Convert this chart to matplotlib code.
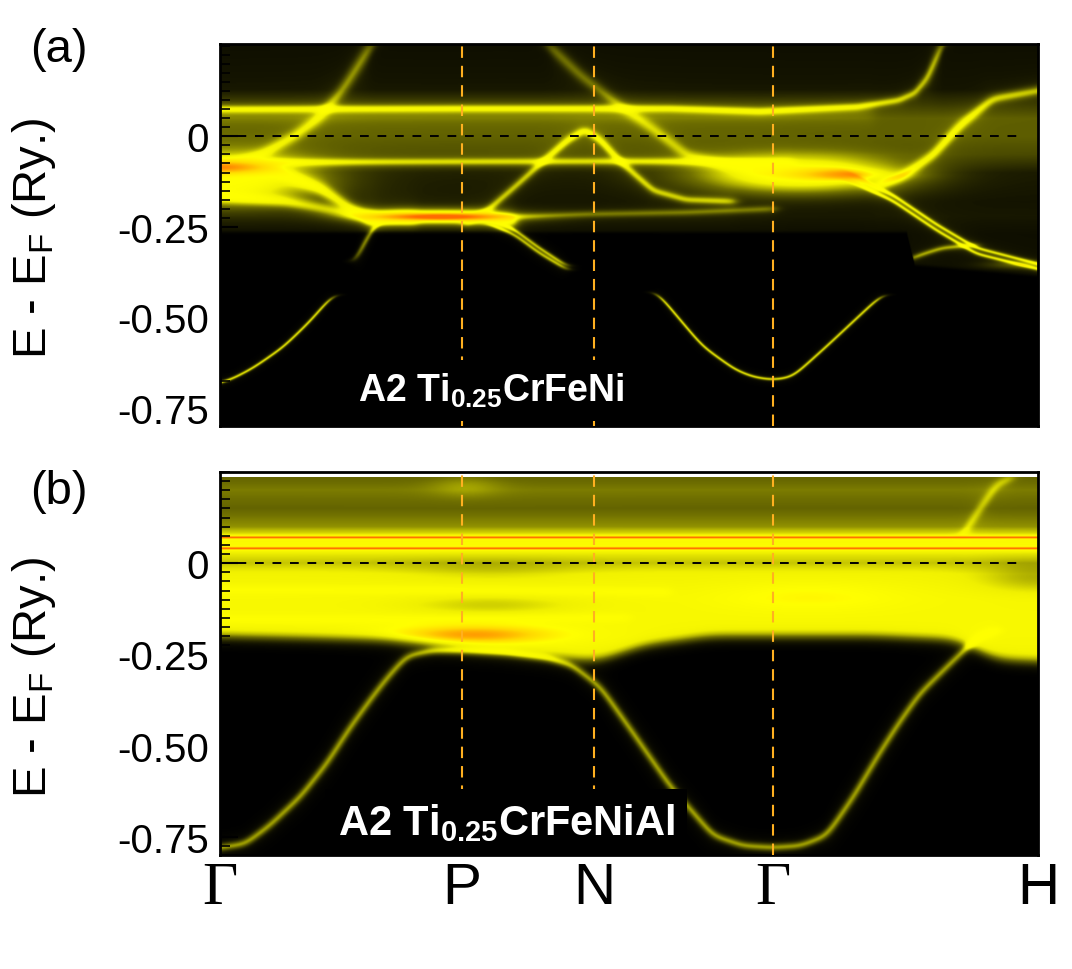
import numpy as np
import matplotlib
matplotlib.use("Agg")
import matplotlib.pyplot as plt
from matplotlib.colors import LinearSegmentedColormap
from matplotlib.transforms import ScaledTranslation

plt.rcParams["font.family"] = ["Liberation Sans", "DejaVu Sans"]
plt.rcParams["mathtext.fontset"] = "custom"
plt.rcParams["mathtext.rm"] = "Liberation Sans"
plt.rcParams["mathtext.bf"] = "Liberation Sans:bold"
plt.rcParams["mathtext.it"] = "Liberation Sans:italic"

# ---------------- k-path & axes data ----------------
kpath_labels = ["Γ", "P", "N", "Γ", "H"]
kpath_pos = [0.0, 0.296, 0.457, 0.676, 1.0]
label_dx_px = [10, 4, 5, 6, -8]
yticks = [0.0, -0.25, -0.50, -0.75]
ytick_labels = ["0", "-0.25", "-0.50", "-0.75"]
ylim_a = (-0.80, 0.255)
ylim_b = (-0.80, 0.235)
title_a = r"A2 Ti$_{\mathbf{0.25}}$CrFeNi"
title_b = r"A2 Ti$_{\mathbf{0.25}}$CrFeNiAl"

# ---------------- panel (a) bands (k along path, E in Ry) ----------------
a_flat_top_k = [0.0, 0.30, 0.55, 0.66, 0.78, 0.83, 0.85, 0.865, 0.875, 0.885]
a_flat_top_E = [0.075, 0.077, 0.077, 0.069, 0.082, 0.100, 0.120, 0.160, 0.210, 0.260]
a_right_diag_k = [0.80, 0.831, 0.872, 0.905, 0.945, 1.0]
a_right_diag_E = [-0.14, -0.115, -0.052, 0.030, 0.104, 0.126]
a_top_left_k = [0.0, 0.05, 0.09, 0.12, 0.15, 0.187]
a_top_left_E = [-0.09, -0.05, 0.0, 0.05, 0.13, 0.26]
a_top_mid_k = [0.40, 0.44, 0.489, 0.53, 0.571, 0.62, 0.66]
a_top_mid_E = [0.255, 0.17, 0.085, 0.02, -0.052, -0.08, -0.09]
a_peak_k = [0.30, 0.326, 0.36, 0.395, 0.425, 0.446, 0.465, 0.489, 0.53, 0.57, 0.63]
a_peak_E = [-0.24, -0.206, -0.14, -0.069, -0.01, 0.019, -0.01, -0.069, -0.15, -0.175, -0.18]
a_flat_mid_k = [0.0, 0.30, 0.50, 0.60, 0.70]
a_flat_mid_E = [-0.072, -0.070, -0.069, -0.070, -0.075]
a_left1_k = [0.0, 0.07, 0.122, 0.16, 0.19, 0.24]
a_left1_E = [-0.085, -0.10, -0.143, -0.20, -0.225, -0.228]
a_left2_k = [0.0, 0.08, 0.15, 0.19]
a_left2_E = [-0.165, -0.18, -0.21, -0.23]
a_Pflat_k = [0.18, 0.22, 0.296, 0.33, 0.36]
a_Pflat_E = [-0.228, -0.222, -0.222, -0.225, -0.235]
a_faint_k = [0.33, 0.45, 0.57, 0.68]
a_faint_E = [-0.225, -0.215, -0.210, -0.200]
a_GH1_k = [0.66, 0.70, 0.762, 0.823, 0.877, 0.925, 1.0]
a_GH1_E = [-0.088, -0.090, -0.097, -0.162, -0.244, -0.308, -0.352]
a_GH2_k = [0.66, 0.70, 0.762, 0.823, 0.877, 0.925, 1.0]
a_GH2_E = [-0.100, -0.103, -0.112, -0.178, -0.260, -0.324, -0.366]
a_Harc_k = [0.843, 0.86, 0.884, 0.925]
a_Harc_E = [-0.340, -0.325, -0.308, -0.300]
a_Pdrop1_k = [0.33, 0.36, 0.39, 0.424]
a_Pdrop1_E = [-0.228, -0.258, -0.308, -0.358]
a_Pdrop2_k = [0.33, 0.36, 0.39, 0.424]
a_Pdrop2_E = [-0.242, -0.272, -0.322, -0.368]
a_Ldrop_k = [0.165, 0.175, 0.187, 0.20]
a_Ldrop_E = [-0.345, -0.300, -0.250, -0.230]
a_par1_k = [0.0, 0.012, 0.04, 0.077, 0.11, 0.138]
a_par1_E = [-0.680, -0.673, -0.640, -0.582, -0.510, -0.437]
a_par2_k = [0.534, 0.56, 0.59, 0.63, 0.652, 0.676, 0.70, 0.742, 0.78, 0.81]
a_par2_E = [-0.430, -0.500, -0.580, -0.645, -0.665, -0.673, -0.665, -0.580, -0.500, -0.437]
# background haze of (a) as function of E
a_haze_E = [-0.27, -0.22, -0.18, -0.10, -0.05, 0.0, 0.05, 0.09, 0.13, 0.26]
a_haze_v = [0.06, 0.09, 0.08, 0.10, 0.24, 0.30, 0.30, 0.18, 0.08, 0.06]
a_cut_k = [0.0, 0.84, 0.85, 1.0]
a_cut_E = [-0.265, -0.265, -0.355, -0.385]
# broad bright regions (k0, E0, sigma_k, sigma_E, amp)
a_blob_k0 = [0.0, 0.71, 0.27]
a_blob_E0 = [-0.12, -0.105, -0.222]
a_blob_sk = [0.08, 0.085, 0.07]
a_blob_sE = [0.045, 0.035, 0.014]
a_blob_amp = [0.8, 0.8, 0.35]
# hot (orange) cores
a_hot_k0 = [0.0, 0.27, 0.78, 0.98]
a_hot_E0 = [-0.085, -0.222, -0.105, -0.355]
a_hot_sk = [0.04, 0.055, 0.05, 0.03]
a_hot_sE = [0.012, 0.007, 0.012, 0.008]
a_hot_amp = [0.2, 0.28, 0.2, 0.2]

# ---------------- panel (b) ----------------
b_line1_k = [0.0, 1.0]
b_line1_E = [0.070, 0.070]
b_line2_k = [0.0, 1.0]
b_line2_E = [0.040, 0.040]
b_arc_k = [0.0, 0.03, 0.06, 0.098, 0.13, 0.159, 0.185, 0.204, 0.228, 0.26, 0.30, 0.35,
           0.40, 0.43, 0.465, 0.50, 0.55, 0.603, 0.64, 0.676, 0.71, 0.742, 0.775,
           0.807, 0.83, 0.856, 0.896, 0.929, 0.95]
b_arc_E = [-0.780, -0.770, -0.720, -0.640, -0.550, -0.450, -0.370, -0.315, -0.255,
           -0.240, -0.240, -0.245, -0.260, -0.280, -0.340, -0.450, -0.610, -0.747,
           -0.775, -0.780, -0.775, -0.747, -0.640, -0.520, -0.440, -0.358, -0.270,
           -0.200, -0.185]
b_bandA_k = [0.0, 0.3, 0.55]
b_bandA_E = [-0.075, -0.075, -0.080]
b_bandB_k = [0.0, 0.3, 0.50]
b_bandB_E = [-0.155, -0.155, -0.150]
b_topH_k = [0.905, 0.913, 0.93, 0.95, 0.97]
b_topH_E = [0.070, 0.090, 0.150, 0.215, 0.235]
b_haze_E = [-0.30, -0.20, -0.10, -0.03, 0.0, 0.03, 0.055, 0.08, 0.10, 0.15, 0.20, 0.235]
b_haze_v = [0.70, 0.74, 0.74, 0.68, 0.54, 0.64, 0.76, 0.58, 0.42, 0.32, 0.38, 0.32]
b_edge_k = [0.0, 0.20, 0.30, 0.40, 0.46, 0.52, 0.60, 0.676, 0.80, 0.90, 0.95, 1.0]
b_edge_E = [-0.20, -0.21, -0.235, -0.255, -0.27, -0.225, -0.20, -0.20, -0.20, -0.21, -0.265, -0.27]
b_blob_k0 = [0.33, 0.33, 1.0, 0.30]
b_blob_E0 = [-0.115, -0.02, -0.04, 0.21]
b_blob_sk = [0.08, 0.08, 0.05, 0.03]
b_blob_sE = [0.020, 0.020, 0.030, 0.02]
b_blob_amp = [-0.18, -0.10, -0.20, 0.10]
b_hot_k0 = [0.31, 0.72]
b_hot_E0 = [-0.197, -0.09]
b_hot_sk = [0.07, 0.08]
b_hot_sE = [0.018, 0.03]
b_hot_amp = [0.22, 0.07]

# ---------------- rendering helpers ----------------
cmap = LinearSegmentedColormap.from_list(
    "blackyellow",
    [(0.0, "#000000"), (0.08, "#141400"), (0.2, "#3c3c00"), (0.35, "#6e6e00"),
     (0.5, "#b4b400"), (0.65, "#f0f000"), (0.76, "#ffff00"), (0.85, "#ffd800"),
     (0.93, "#ffa000"), (1.0, "#ff6a00")])

NK, NE = 820, 1060
kgrid = np.linspace(0, 1, NK)


def sig(x):
    return 1.0 / (1.0 + np.exp(-np.clip(x, -60, 60)))


def gsmooth(y, s=5.0):
    n = int(3 * s)
    x = np.arange(-n, n + 1)
    ker = np.exp(-0.5 * (x / s) ** 2)
    ker /= ker.sum()
    pad = np.pad(y, n, mode="reflect", reflect_type="odd")
    return np.convolve(pad, ker, mode="same")[n:-n]


def band(Eg, kn, En, w, amp, px_e, px_k=818.0, taper=0.004, s=5.0):
    kn = np.asarray(kn, float)
    En = np.asarray(En, float)
    eb = gsmooth(np.interp(kgrid, kn, En), s)
    slope = np.gradient(eb, kgrid)
    weff = w * np.sqrt(1 + (slope * px_e / px_k) ** 2)
    win = np.ones_like(kgrid)
    if kn[0] > 0:
        win *= sig((kgrid - kn[0]) / taper)
    if kn[-1] < 1:
        win *= sig((kn[-1] - kgrid) / taper)
    d = (Eg - eb[None, :]) / weff[None, :]
    prof = 0.5 * np.exp(-np.log(2) * d ** 2) + 0.5 / (1 + d ** 2)
    return amp * prof * win[None, :]


def blobs(Kg, Eg, k0, E0, sk, sE, amp):
    out = np.zeros_like(Eg)
    for a, b, c, d, e in zip(k0, E0, sk, sE, amp):
        out += e * np.exp(-0.5 * ((Kg - a) / c) ** 2 - 0.5 * ((Eg - b) / d) ** 2)
    return out


def saturate(v, knee=0.58, top=0.18):
    return np.where(v < knee, v, knee + top * np.tanh((v - knee) / top))


# ---------------- panel (a) spectral map ----------------
Ea = np.linspace(ylim_a[0], ylim_a[1], NE)
Kg, Eg = np.meshgrid(kgrid, Ea)
pxa = 364.0
upper = np.interp(Ea, a_haze_E, a_haze_v)[:, None] * np.ones((1, NK))
upper = upper + blobs(Kg, Eg, a_blob_k0, a_blob_E0, a_blob_sk, a_blob_sE, a_blob_amp)
upper += band(Eg, a_flat_top_k, a_flat_top_E, 0.009, 0.45, pxa, s=3)
upper += band(Eg, [0.0, 0.8], [0.062, 0.068], 0.025, 0.08, pxa)
upper += band(Eg, a_right_diag_k, a_right_diag_E, 0.011, 0.45, pxa)
upper += band(Eg, a_top_left_k, a_top_left_E, 0.013, 0.35, pxa)
upper += band(Eg, a_top_mid_k, a_top_mid_E, 0.013, 0.28, pxa)
upper += band(Eg, a_peak_k, a_peak_E, 0.009, 0.45, pxa, s=4)
upper += band(Eg, a_flat_mid_k, a_flat_mid_E, 0.009, 0.42, pxa)
upper += band(Eg, a_left1_k, a_left1_E, 0.014, 0.50, pxa)
upper += band(Eg, a_left2_k, a_left2_E, 0.014, 0.42, pxa)
upper += band(Eg, a_Pflat_k, a_Pflat_E, 0.015, 0.75, pxa)
upper += band(Eg, a_faint_k, a_faint_E, 0.008, 0.28, pxa)
upper += band(Eg, a_GH1_k, a_GH1_E, 0.0045, 0.55, pxa)
upper += band(Eg, a_GH2_k, a_GH2_E, 0.0045, 0.55, pxa)
upper += band(Eg, a_Harc_k, a_Harc_E, 0.006, 0.42, pxa)
cut = np.interp(kgrid, a_cut_k, a_cut_E)
mask_a = sig((Eg - cut[None, :]) / 0.0025)
deep = band(Eg, a_Pdrop1_k, a_Pdrop1_E, 0.0045, 0.50, pxa)
deep += band(Eg, a_Pdrop2_k, a_Pdrop2_E, 0.0045, 0.50, pxa)
deep += band(Eg, a_Ldrop_k, a_Ldrop_E, 0.006, 0.42, pxa)
deep += band(Eg, a_par1_k, a_par1_E, 0.0035, 0.62, pxa, s=7)
deep += band(Eg, a_par2_k, a_par2_E, 0.0035, 0.62, pxa, s=7)
hot_a = blobs(Kg, Eg, a_hot_k0, a_hot_E0, a_hot_sk, a_hot_sE, a_hot_amp)
map_a = saturate(upper * mask_a + deep) + hot_a * mask_a

# ---------------- panel (b) spectral map ----------------
Eb = np.linspace(ylim_b[0], ylim_b[1], NE)
Kb, Ebg = np.meshgrid(kgrid, Eb)
pxb = 371.0
edge = gsmooth(np.interp(kgrid, b_edge_k, b_edge_E), 12)
base_b = np.interp(Eb, b_haze_E, b_haze_v)[:, None] * sig((Ebg - edge[None, :]) / 0.009)
base_b += blobs(Kb, Ebg, b_blob_k0, b_blob_E0, b_blob_sk, b_blob_sE, b_blob_amp)
base_b += band(Ebg, b_line1_k, b_line1_E, 0.004, 0.35, pxb)
base_b += band(Ebg, b_line2_k, b_line2_E, 0.004, 0.35, pxb)
base_b += band(Ebg, b_arc_k, b_arc_E, 0.009, 0.45, pxb, s=6)
base_b += band(Ebg, b_bandA_k, b_bandA_E, 0.010, 0.15, pxb)
base_b += band(Ebg, b_bandB_k, b_bandB_E, 0.010, 0.15, pxb)
base_b += band(Ebg, b_topH_k, b_topH_E, 0.010, 0.22, pxb)
hot_b = blobs(Kb, Ebg, b_hot_k0, b_hot_E0, b_hot_sk, b_hot_sE, b_hot_amp)
hot_b += band(Ebg, b_line1_k, b_line1_E, 0.0022, 0.32, pxb)
hot_b += band(Ebg, b_line2_k, b_line2_E, 0.0022, 0.32, pxb)
map_b = saturate(base_b) + hot_b

# ---------------- figure ----------------
fig = plt.figure(figsize=(10.72, 9.70), dpi=100)
axA = fig.add_axes([220 / 1072, 1 - 427 / 970, 818 / 1072, 382 / 970])
axB = fig.add_axes([220 / 1072, 1 - 856 / 970, 818 / 1072, 383 / 970])

for ax, data, ylim, title, tx, ty, fs, ylab_y in [
        (axA, map_a, ylim_a, title_a, 0.169, 0.065, 27, 0.495),
        (axB, map_b, ylim_b, title_b, 0.144, 0.055, 30, 0.467)]:
    ax.imshow(data, extent=[0, 1, ylim[0], ylim[1]], origin="lower", aspect="auto",
              cmap=cmap, vmin=0, vmax=1, interpolation="bilinear", zorder=1)
    ax.set_xlim(0, 1)
    ax.set_ylim(*ylim)
    for kp in kpath_pos[1:-1]:
        ax.axvline(kp, color="#ffb020", lw=1.5, ls=(0, (5.5, 3.8)), zorder=3)
    ax.axhline(0, xmin=0.0, xmax=0.975, color="black", lw=1.4, ls=(0, (4.5, 4.5)), zorder=3)
    ax.set_yticks(yticks)
    ax.set_yticklabels(ytick_labels, fontsize=29)
    ax.set_yticks(np.arange(-0.775, 0.26, 0.025), minor=True)
    ax.tick_params(axis="y", which="major", direction="in", length=13, width=1.5,
                   color="black", pad=8)
    ax.tick_params(axis="y", which="minor", direction="in", length=7, width=1.2,
                   color="black")
    ax.set_xticks(kpath_pos)
    ax.tick_params(axis="x", length=0)
    for sp in ax.spines.values():
        sp.set_linewidth(2)
        sp.set_color("black")
    ax.set_ylabel(r"E - E$_{\mathrm{F}}$ (Ry.)", fontsize=34)
    ax.yaxis.set_label_coords(-0.198, ylab_y)
    ax.text(tx, ty, title, transform=ax.transAxes, color="white", fontsize=fs,
            fontweight="bold", va="baseline", ha="left", zorder=5,
            bbox=dict(boxstyle="square,pad=0.3", facecolor="black", edgecolor="none"))

axA.set_xticklabels([])
axB.set_xticklabels(kpath_labels)
for lab, dx in zip(axB.get_xticklabels(), label_dx_px):
    if lab.get_text() == "Γ":
        lab.set_fontfamily(["Liberation Serif", "DejaVu Serif"])
        lab.set_fontsize(44)
    else:
        lab.set_fontfamily(["Liberation Sans"])
        lab.set_fontsize(42)
    lab.set_transform(lab.get_transform() + ScaledTranslation(dx / 100, 0, fig.dpi_scale_trans))
axB.tick_params(axis="x", pad=4)

fig.text(30 / 1072, 1 - 28 / 970, "(a)", fontsize=34, va="top", ha="left")
fig.text(30 / 1072, 1 - 470 / 970, "(b)", fontsize=34, va="top", ha="left")

fig.savefig("out.png", dpi=100)
